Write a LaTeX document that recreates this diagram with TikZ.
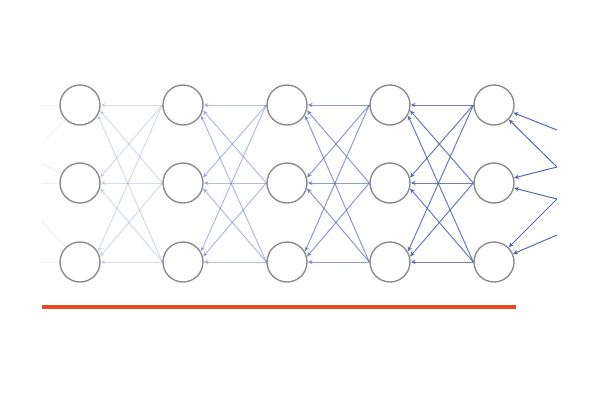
\documentclass[tikz,border=0pt]{standalone}
\usetikzlibrary{arrows.meta}
\definecolor{linkblue}{RGB}{72,94,172}
\definecolor{redline}{RGB}{228,72,32}
\begin{document}
\begin{tikzpicture}[x=1pt,y=-1pt,>={Stealth[length=5pt,width=4.5pt]},
	neuron/.style={circle,draw=gray!90,line width=1.4pt,minimum size=40pt,inner sep=0pt},
	link/.style={->,draw=linkblue,fill=linkblue,line width=1pt,draw opacity=#1,fill opacity=#1},
	fadelink/.style={draw=linkblue,line width=1pt,draw opacity=0.1}]
	\useasboundingbox (0,0) rectangle (600,400);
	% the five layers of units
	\foreach \c/\x in {1/80,2/183,3/287,4/390,5/494}
		\foreach \r/\y in {1/105,2/183,3/262}
			\node[neuron] (n\c\r) at (\x,\y) {};
	% links from each layer back to the one before, darker to the right
	\foreach \o [count=\c] in {0.2,0.38,0.58,0.78}{
		\pgfmathtruncatemacro\p{\c+1}
		\foreach \i in {1,2,3}
			\foreach \j in {1,2,3}{
				\pgfmathtruncatemacro\a{15*(\j-\i)}
				\draw[link=\o] (n\p\i.west) -- (n\c\j.\a);
			}
	}
	% links coming in from the right
	\coordinate (r1) at (557,130);
	\coordinate (r2) at (557,167);
	\coordinate (r3) at (557,199);
	\coordinate (r4) at (557,235);
	\draw[link=0.9] (r1) -- (n51);
	\draw[link=0.9] (r2) -- (n51);
	\draw[link=0.9] (r2) -- (n52);
	\draw[link=0.9] (r3) -- (n52);
	\draw[link=0.9] (r3) -- (n53);
	\draw[link=0.9] (r4) -- (n53);
	% faded links going out on the left
	\coordinate (l1) at (42,105);
	\coordinate (l2) at (42,143);
	\coordinate (l3) at (42,164);
	\coordinate (l4) at (42,183);
	\coordinate (l5) at (42,222);
	\coordinate (l6) at (42,262);
	\draw[fadelink] (n11) -- (l1);
	\draw[fadelink] (n11) -- (l2);
	\draw[fadelink] (n12) -- (l3);
	\draw[fadelink] (n12) -- (l4);
	\draw[fadelink] (n13) -- (l5);
	\draw[fadelink] (n13) -- (l6);
	% base line
	\draw[redline,line width=3.5pt] (42,307) -- (516,307);
\end{tikzpicture}
\end{document}
